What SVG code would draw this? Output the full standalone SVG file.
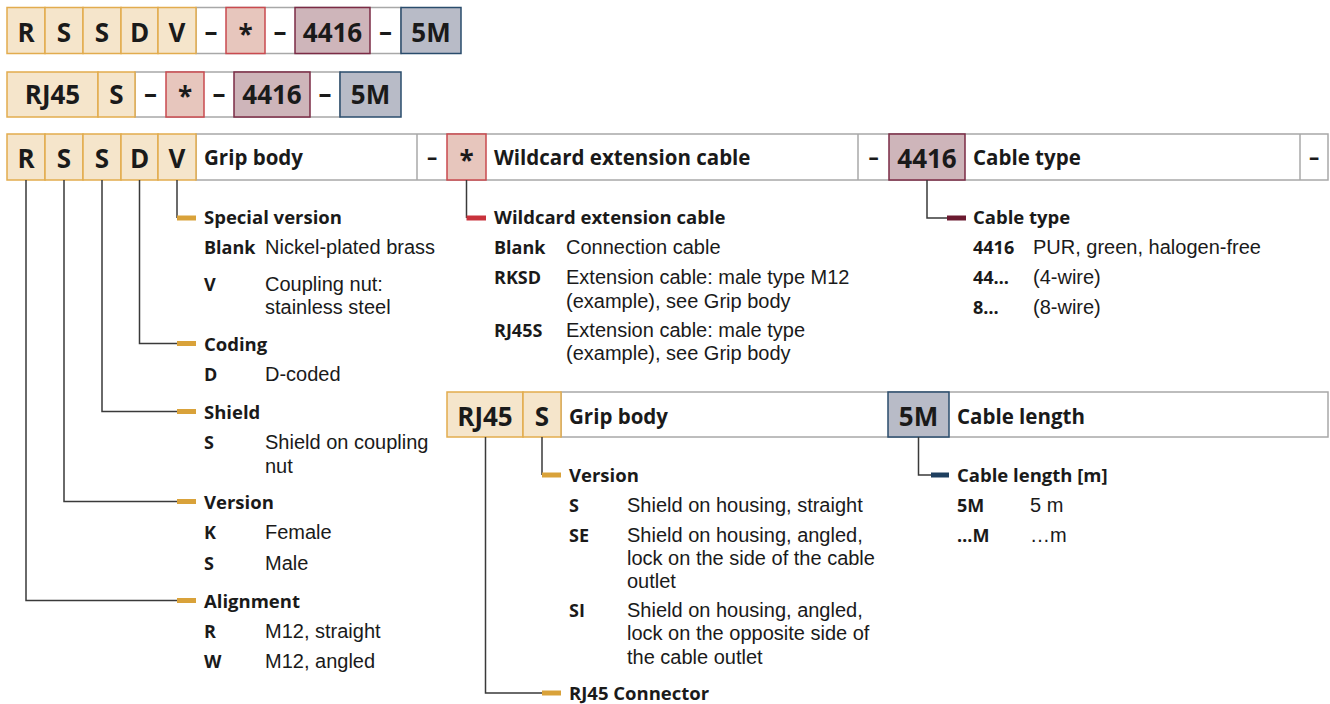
<svg xmlns="http://www.w3.org/2000/svg" width="1330" height="704" viewBox="0 0 1330 704">
<style>
text{font-family:"Open Sans","Noto Sans","Liberation Sans",sans-serif;fill:#1a1a1a}
.code{font-size:26px;font-weight:700;text-anchor:middle}
.hd{font-size:20.5px;font-weight:700}
.sh{font-size:18.5px;font-weight:700}
.k{font-size:18px;font-weight:700}
.b{font-family:"Liberation Sans",Arial,sans-serif;font-size:20px;font-weight:400}
.w{fill:#ffffff;stroke:#a8a8a8;stroke-width:1.5}
.y{fill:#f5e5cb;stroke:#e2ac4e;stroke-width:1.5}
.r{fill:#e7c6bd;stroke:#c94a4f;stroke-width:1.5}
.m{fill:#ceb5ba;stroke:#7b2b45;stroke-width:1.5}
.n{fill:#b8bbc7;stroke:#2a4c6c;stroke-width:1.5}
.ln{fill:none;stroke:#3a3a3a;stroke-width:1.5}
.bar{stroke-width:5;fill:none}
</style>
<!-- Row 1 -->
<g id="code-rssdv">
<rect class="w" x="196" y="7.5" width="205" height="46"/>
<rect class="y" x="7" y="7.5" width="38" height="46"/>
<rect class="y" x="45" y="7.5" width="38" height="46"/>
<rect class="y" x="83" y="7.5" width="38" height="46"/>
<rect class="y" x="121" y="7.5" width="37" height="46"/>
<rect class="y" x="158" y="7.5" width="38" height="46"/>
<rect class="r" x="226" y="7.5" width="39" height="46"/>
<rect class="m" x="295" y="7.5" width="75" height="46"/>
<rect class="n" x="401" y="7.5" width="60" height="46"/>
<text class="code" x="26" y="42">R</text>
<text class="code" x="64" y="42">S</text>
<text class="code" x="102" y="42">S</text>
<text class="code" x="139.5" y="42">D</text>
<text class="code" x="177" y="42">V</text>
<text class="code" x="211" y="41">–</text>
<text class="code" x="245.5" y="44">*</text>
<text class="code" x="280" y="41">–</text>
<text class="code" x="332.5" y="42">4416</text>
<text class="code" x="385.5" y="41">–</text>
<text class="code" x="431" y="42">5M</text>
</g>
<!-- Row 2 -->
<g id="code-rj45s">
<rect class="w" x="135" y="72" width="205" height="45"/>
<rect class="y" x="7" y="72" width="91" height="45"/>
<rect class="y" x="98" y="72" width="37" height="45"/>
<rect class="r" x="166" y="72" width="38" height="45"/>
<rect class="m" x="234" y="72" width="76" height="45"/>
<rect class="n" x="340" y="72" width="61" height="45"/>
<text class="code" x="52.5" y="104">RJ45</text>
<text class="code" x="116.5" y="104">S</text>
<text class="code" x="150.5" y="103">–</text>
<text class="code" x="185" y="106">*</text>
<text class="code" x="219" y="103">–</text>
<text class="code" x="272" y="104">4416</text>
<text class="code" x="325" y="103">–</text>
<text class="code" x="370.5" y="104">5M</text>
</g>
<!-- Header row -->
<g id="header-main">
<rect class="w" x="196" y="134" width="1132" height="46"/>
<line x1="417" y1="134" x2="417" y2="180" stroke="#a8a8a8" stroke-width="1.5"/>
<line x1="858" y1="134" x2="858" y2="180" stroke="#a8a8a8" stroke-width="1.5"/>
<line x1="1300" y1="134" x2="1300" y2="180" stroke="#a8a8a8" stroke-width="1.5"/>
<rect class="y" x="7" y="134" width="38" height="46"/>
<rect class="y" x="45" y="134" width="38" height="46"/>
<rect class="y" x="83" y="134" width="38" height="46"/>
<rect class="y" x="121" y="134" width="37" height="46"/>
<rect class="y" x="158" y="134" width="38" height="46"/>
<rect class="r" x="447" y="134" width="39" height="46"/>
<rect class="m" x="889" y="134" width="76" height="46"/>
<text class="code" x="26" y="168">R</text>
<text class="code" x="64" y="168">S</text>
<text class="code" x="102" y="168">S</text>
<text class="code" x="139.5" y="168">D</text>
<text class="code" x="177" y="168">V</text>
<text class="hd" x="204" y="165">Grip body</text>
<text class="hd" x="432" y="165" text-anchor="middle">–</text>
<text class="code" x="466.5" y="170">*</text>
<text class="hd" x="494" y="165">Wildcard extension cable</text>
<text class="hd" x="873.5" y="165" text-anchor="middle">–</text>
<text class="code" x="927" y="168">4416</text>
<text class="hd" x="973" y="165">Cable type</text>
<text class="hd" x="1314" y="165" text-anchor="middle">–</text>
</g>
<!-- RJ45 header -->
<g id="header-rj45">
<rect class="w" x="561" y="392" width="767" height="45"/>
<rect class="y" x="447" y="392" width="76" height="45"/>
<rect class="y" x="523" y="392" width="38" height="45"/>
<rect class="n" x="888" y="392" width="61" height="45"/>
<text class="code" x="485" y="425.5">RJ45</text>
<text class="code" x="542" y="425.5">S</text>
<text class="hd" x="569" y="424">Grip body</text>
<text class="code" x="918.5" y="425.5">5M</text>
<text class="hd" x="957" y="424">Cable length</text>
</g>
<!-- Connectors -->
<g id="connectors">
<path class="ln" d="M177 180V218"/>
<path class="ln" d="M139.5 180V343.5H177"/>
<path class="ln" d="M102 180V411.5H177"/>
<path class="ln" d="M64 180V501.5H177"/>
<path class="ln" d="M26 180V600.5H177"/>
<path class="ln" d="M466.5 180V218"/>
<path class="ln" d="M927 180V218H947"/>
<path class="ln" d="M542 437V475"/>
<path class="ln" d="M485.5 437V693H542"/>
<path class="ln" d="M918.5 437V475H931"/>
<g stroke="#d9a23a" class="bar">
<line x1="177" y1="218" x2="196" y2="218"/>
<line x1="177" y1="343.5" x2="196" y2="343.5"/>
<line x1="177" y1="411.5" x2="196" y2="411.5"/>
<line x1="177" y1="501.5" x2="196" y2="501.5"/>
<line x1="177" y1="600.5" x2="196" y2="600.5"/>
<line x1="542" y1="475" x2="561" y2="475"/>
<line x1="542" y1="693" x2="561" y2="693"/>
</g>
<line class="bar" stroke="#c8323c" x1="466.5" y1="218" x2="486" y2="218"/>
<line class="bar" stroke="#6b1a30" x1="947" y1="218" x2="966" y2="218"/>
<line class="bar" stroke="#1e3f5f" x1="931" y1="475" x2="949" y2="475"/>
</g>
<!-- Special version -->
<g id="special-version">
<text class="sh" x="204" y="224">Special version</text>
<text class="k" x="204" y="254">Blank</text>
<text class="b" x="265" y="254">Nickel-plated brass</text>
<text class="k" x="204" y="291">V</text>
<text class="b" x="265" y="291">Coupling nut:<tspan x="265" y="314">stainless steel</tspan></text>
</g>
<g id="coding">
<text class="sh" x="204" y="351">Coding</text>
<text class="k" x="204" y="381">D</text>
<text class="b" x="265" y="381">D-coded</text>
</g>
<g id="shield">
<text class="sh" x="204" y="419">Shield</text>
<text class="k" x="204" y="449">S</text>
<text class="b" x="265" y="449">Shield on coupling<tspan x="265" y="473">nut</tspan></text>
</g>
<g id="version">
<text class="sh" x="204" y="509">Version</text>
<text class="k" x="204" y="539">K</text>
<text class="b" x="265" y="539">Female</text>
<text class="k" x="204" y="570">S</text>
<text class="b" x="265" y="570">Male</text>
</g>
<g id="alignment">
<text class="sh" x="204" y="608">Alignment</text>
<text class="k" x="204" y="638">R</text>
<text class="b" x="265" y="638">M12, straight</text>
<text class="k" x="204" y="668">W</text>
<text class="b" x="265" y="668">M12, angled</text>
</g>
<g id="wildcard">
<text class="sh" x="494" y="224">Wildcard extension cable</text>
<text class="k" x="494" y="254">Blank</text>
<text class="b" x="566" y="254">Connection cable</text>
<text class="k" x="494" y="284">RKSD</text>
<text class="b" x="566" y="284">Extension cable: male type M12<tspan x="566" y="308">(example), see Grip body</tspan></text>
<text class="k" x="494" y="337">RJ45S</text>
<text class="b" x="566" y="337">Extension cable: male type<tspan x="566" y="360">(example), see Grip body</tspan></text>
</g>
<g id="cable-type">
<text class="sh" x="973" y="224">Cable type</text>
<text class="k" x="973" y="254">4416</text>
<text class="b" x="1033" y="254">PUR, green, halogen-free</text>
<text class="k" x="973" y="284">44…</text>
<text class="b" x="1033" y="284">(4-wire)</text>
<text class="k" x="973" y="314">8…</text>
<text class="b" x="1033" y="314">(8-wire)</text>
</g>
<g id="rj45-version">
<text class="sh" x="569" y="482">Version</text>
<text class="k" x="569" y="512">S</text>
<text class="b" x="627" y="512">Shield on housing, straight</text>
<text class="k" x="569" y="542">SE</text>
<text class="b" x="627" y="542">Shield on housing, angled,<tspan x="627" y="565">lock on the side of the cable</tspan><tspan x="627" y="588">outlet</tspan></text>
<text class="k" x="569" y="617">SI</text>
<text class="b" x="627" y="617">Shield on housing, angled,<tspan x="627" y="640">lock on the opposite side of</tspan><tspan x="627" y="664">the cable outlet</tspan></text>
</g>
<g id="rj45-connector">
<text class="sh" x="569" y="700">RJ45 Connector</text>
</g>
<g id="cable-length">
<text class="sh" x="957" y="482">Cable length [m]</text>
<text class="k" x="957" y="512">5M</text>
<text class="b" x="1030" y="512">5 m</text>
<text class="k" x="957" y="542">…M</text>
<text class="b" x="1030" y="542">…m</text>
</g>
</svg>
